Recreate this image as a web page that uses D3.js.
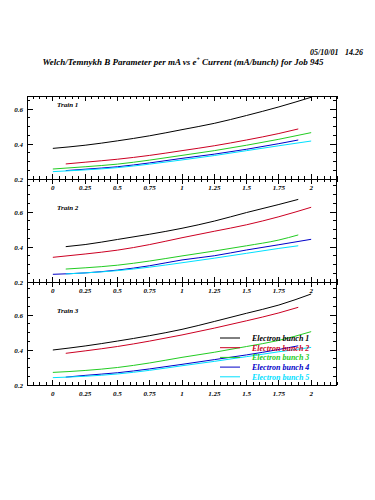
<script src="https://d3js.org/d3.v7.min.js"></script>
<style>
  body { margin: 0; background: #fff; }
  text { font-family: "Liberation Serif", "DejaVu Serif", serif; font-style: italic; font-weight: bold; }
</style>
<svg id="main_canvas" width=375 height=500></svg>

<script>
  "use strict";
  const WIDTH = 375;
  const HEIGHT = 500;

  // x grids: odd/even bunches start at different currents
  const xFull = [0, 0.25, 0.5, 0.75, 1, 1.25, 1.5, 1.75, 2];
  const xShort = [0.1, 0.25, 0.5, 0.75, 1, 1.25, 1.5, 1.75, 1.9];

  const bunchLabels = ["Electron bunch 1", "Electron bunch 2", "Electron bunch 3", "Electron bunch 4", "Electron bunch 5"];
  const trainLabels = ["Train 1", "Train 2", "Train 3"];
  const xTickLabels = [0, 0.25, 0.5, 0.75, 1, 1.25, 1.5, 1.75, 2];
  const yTickLabels = [0.2, 0.4, 0.6];

  // B parameter per mA, one array per bunch
  const train1 = [
    [0.375, 0.393, 0.418, 0.447, 0.482, 0.518, 0.563, 0.612, 0.667],
    [0.286, 0.296, 0.313, 0.335, 0.362, 0.390, 0.423, 0.460, 0.486],
    [0.257, 0.270, 0.285, 0.308, 0.335, 0.362, 0.393, 0.427, 0.465],
    [0.248, 0.256, 0.270, 0.292, 0.318, 0.342, 0.370, 0.402, 0.423],
    [0.242, 0.252, 0.265, 0.285, 0.309, 0.334, 0.362, 0.390, 0.417]
  ];
  const train2 = [
    [0.402, 0.414, 0.443, 0.473, 0.507, 0.548, 0.597, 0.643, 0.672],
    [0.341, 0.360, 0.382, 0.414, 0.453, 0.490, 0.527, 0.573, 0.627],
    [0.274, 0.281, 0.296, 0.320, 0.349, 0.377, 0.407, 0.440, 0.469],
    [0.244, 0.252, 0.268, 0.293, 0.326, 0.350, 0.383, 0.413, 0.444],
    [0.246, 0.252, 0.265, 0.285, 0.310, 0.336, 0.364, 0.392, 0.407]
  ];
  const train3 = [
    [0.400, 0.423, 0.451, 0.482, 0.518, 0.563, 0.610, 0.657, 0.720],
    [0.381, 0.395, 0.420, 0.451, 0.486, 0.525, 0.567, 0.612, 0.644],
    [0.272, 0.283, 0.300, 0.326, 0.358, 0.387, 0.420, 0.455, 0.505],
    [0.245, 0.255, 0.270, 0.292, 0.318, 0.345, 0.372, 0.403, 0.424],
    [0.242, 0.250, 0.263, 0.284, 0.310, 0.335, 0.362, 0.390, 0.415]
  ];
  const trainGrids = [
    [xFull, xShort, xFull, xShort, xFull],
    [xShort, xFull, xShort, xFull, xShort],
    [xFull, xShort, xFull, xShort, xFull]
  ];
  const trains = [train1, train2, train3];

  const COLORS = ["#000000", "#cc0022", "#22cc22", "#0000c8", "#00e0ff"];

  const LEFT = 27;
  const RIGHT = 337;
  const TOP = 96;
  const PANEL_BOTTOMS = [179, 282, 385];
  const PX_PER_UNIT = 175;

  const canvas = d3.select("#main_canvas");
  canvas.append("rect").attr("width", WIDTH).attr("height", HEIGHT).attr("fill", "white");

  const x = d3.scaleLinear().domain([-0.2, 2.2]).range([LEFT, RIGHT]);

  // Header
  const stamp = canvas.append("text")
    .attr("x", 363).attr("y", 55)
    .attr("text-anchor", "end")
    .attr("font-size", 8);
  stamp.append("tspan").text("05/10/01");
  stamp.append("tspan").attr("dx", 7).text("14.26");

  const title = canvas.append("text")
    .attr("x", 183).attr("y", 65)
    .attr("text-anchor", "middle")
    .attr("font-size", 9);
  title.append("tspan").text("Welch/Temnykh B Parameter per mA vs e");
  title.append("tspan").attr("dy", -4).attr("font-size", 6).text("+");
  title.append("tspan").attr("dy", 4).text(" Current (mA/bunch) for Job 945");

  const line = (sel, x1, y1, x2, y2) => sel.append("line")
    .attr("x1", x1).attr("y1", y1).attr("x2", x2).attr("y2", y2)
    .attr("stroke", "black").attr("stroke-width", 1);

  const frame = canvas.append("g").attr("shape-rendering", "crispEdges");
  line(frame, LEFT, TOP, LEFT, PANEL_BOTTOMS[2]);
  line(frame, RIGHT - 1, TOP, RIGHT - 1, PANEL_BOTTOMS[2]);
  line(frame, LEFT, TOP, RIGHT, TOP);

  const xMinor = d3.range(-0.2, 2.2001, 0.05).map(v => +v.toFixed(2));
  const isMajorX = v => Math.abs(v / 0.25 - Math.round(v / 0.25)) < 1e-6;

  // top ticks of first panel
  xMinor.forEach(v => line(frame, x(v), TOP, x(v), TOP + (isMajorX(v) ? 5 : 3)));

  trains.forEach((train, t) => {
    const bottom = PANEL_BOTTOMS[t];
    const panelTop = t === 0 ? TOP : PANEL_BOTTOMS[t - 1];
    const y = d3.scaleLinear().domain([0.2, 0.7]).range([bottom, bottom - 0.5 * PX_PER_UNIT]);
    const topValue = y.invert(panelTop);

    // x axis at the bottom of the panel, ticks cross into the next panel
    line(frame, LEFT, bottom, RIGHT, bottom);
    xMinor.forEach(v => {
      const len = isMajorX(v) ? 5 : 3;
      line(frame, x(v), bottom - len, x(v), t < 2 ? bottom + len : bottom);
    });
    canvas.selectAll(null)
      .data(xTickLabels)
      .enter()
      .append("text")
      .attr("x", d => x(d))
      .attr("y", bottom + 11)
      .attr("text-anchor", "middle")
      .attr("font-size", 7)
      .text(d => d);

    // y ticks on both sides
    const yMinor = d3.range(0.2, topValue + 1e-6, 0.05).map(v => +v.toFixed(2));
    yMinor.forEach(v => {
      const len = Math.abs(v * 5 - Math.round(v * 5)) < 1e-6 ? 6 : 3;
      line(frame, LEFT, y(v), LEFT + len, y(v));
      line(frame, RIGHT - 1, y(v), RIGHT - 1 - len, y(v));
    });
    canvas.selectAll(null)
      .data(yTickLabels)
      .enter()
      .append("text")
      .attr("x", 23)
      .attr("y", d => y(d) + 3)
      .attr("text-anchor", "end")
      .attr("font-size", 7)
      .text(d => d);

    canvas.append("text")
      .attr("x", 57).attr("y", y(0.6) - 2)
      .attr("font-size", 7)
      .text(trainLabels[t]);

    const path = d3.line()
      .x(d => x(d[0]))
      .y(d => y(d[1]))
      .curve(d3.curveMonotoneX);

    train.forEach((vals, b) => {
      const pts = trainGrids[t][b].map((xv, i) => [xv, vals[i]]);
      canvas.append("path")
        .attr("d", path(pts))
        .attr("fill", "none")
        .attr("stroke", COLORS[b])
        .attr("stroke-width", 1);
    });

    // Legend in the last panel
    if (t === 2) {
      const legend = canvas.append("g");
      bunchLabels.forEach((label, b) => {
        const ly = 338 + b * 9.7;
        legend.append("line")
          .attr("x1", 220).attr("x2", 240)
          .attr("y1", ly).attr("y2", ly)
          .attr("stroke", COLORS[b]).attr("stroke-width", 1);
        legend.append("text")
          .attr("x", 252).attr("y", ly + 3)
          .attr("font-size", 8)
          .attr("fill", COLORS[b])
          .text(label);
      });
    }
  });
</script>
